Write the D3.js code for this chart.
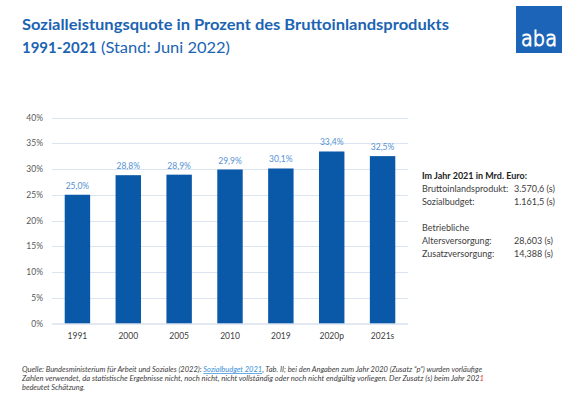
<!DOCTYPE html>
<html><head><meta charset="utf-8">
<script src="https://cdn.jsdelivr.net/npm/d3@7"></script>
<style>
html,body{margin:0;padding:0;background:#fff;}
svg{display:block;font-family:Lato,"Open Sans",sans-serif;}
</style></head>
<body><svg id="c" width="585" height="398"></svg>
<script>
const categories = ["1991","2000","2005","2010","2019","2020p","2021s"];
const values = [25.0, 28.8, 28.9, 29.9, 30.1, 33.4, 32.5];
const yTicks = [0,5,10,15,20,25,30,35,40];
const infoLabels = ["Bruttoinlandsprodukt:","Sozialbudget:","Betriebliche","Altersversorgung:","Zusatzversorgung:"];
const infoValues = ["3.570,6 (s)","1.161,5 (s)","","28,603 (s)","14,388 (s)"];

const svg = d3.select("#c");
const fmt = v => v.toFixed(1).replace(".", ",") + "%";

const x = d3.scaleBand().domain(categories).range([52, 408]).paddingInner(0.5).paddingOuter(0.25);
const y = d3.scaleLinear().domain([0, 40]).range([323.5, 117.5]);

// gridlines
svg.append("g").selectAll("line").data(yTicks.filter(d => d > 0)).join("line")
  .attr("x1", 52).attr("x2", 408)
  .attr("y1", d => Math.round(y(d)) + 0.5).attr("y2", d => Math.round(y(d)) + 0.5)
  .attr("stroke", "#dbe4f1").attr("stroke-width", 1);

// y labels
svg.append("g").selectAll("text").data(yTicks).join("text")
  .attr("x", 43).attr("y", d => y(d) + 3)
  .attr("text-anchor", "end").attr("font-size", 8.5).attr("fill", "#595959")
  .text(d => d + "%");

// bars
svg.append("g").selectAll("rect").data(values).join("rect")
  .attr("x", (d, i) => x(categories[i])).attr("width", x.bandwidth())
  .attr("y", d => y(d)).attr("height", d => y(0) - y(d))
  .attr("fill", "#0a58a8");

// axis line
svg.append("line").attr("x1", 52).attr("x2", 408).attr("y1", 324).attr("y2", 324)
  .attr("stroke", "#c5d3e8").attr("stroke-width", 1);

// value labels
svg.append("g").selectAll("text").data(values).join("text")
  .attr("x", (d, i) => x(categories[i]) + x.bandwidth() / 2)
  .attr("y", d => y(d) - 6)
  .attr("text-anchor", "middle").attr("font-size", 8.5).attr("fill", "#5592d3")
  .text(fmt);

// x labels
svg.append("g").selectAll("text").data(categories).join("text")
  .attr("x", d => x(d) + x.bandwidth() / 2).attr("y", 338.5)
  .attr("text-anchor", "middle").attr("font-size", 8.5).attr("fill", "#404040")
  .text(d => d);

// title
svg.append("text").attr("x", 22).attr("y", 30).attr("font-size", 15.5).attr("font-weight", "bold")
  .attr("fill", "#1b64b2").attr("textLength", 427).attr("lengthAdjust", "spacingAndGlyphs")
  .text("Sozialleistungsquote in Prozent des Bruttoinlandsprodukts");
svg.append("text").attr("x", 22).attr("y", 53).attr("font-size", 15.5).attr("font-weight", "bold")
  .attr("fill", "#1b64b2").attr("textLength", 75).attr("lengthAdjust", "spacingAndGlyphs")
  .text("1991-2021");
svg.append("text").attr("x", 101).attr("y", 53).attr("font-size", 15.5)
  .attr("fill", "#1b64b2").attr("textLength", 129).attr("lengthAdjust", "spacingAndGlyphs")
  .text("(Stand: Juni 2022)");

// logo
svg.append("rect").attr("x", 516).attr("y", 6).attr("width", 46).attr("height", 47).attr("fill", "#1c64b8");
svg.append("text").attr("x", 539).attr("y", 46).attr("text-anchor", "middle")
  .attr("font-size", 22).attr("font-family", "'DejaVu Sans',sans-serif").attr("font-weight", 300)
  .attr("fill", "none").attr("stroke", "#fff").attr("stroke-width", 1.1)
  .attr("textLength", 36).attr("lengthAdjust", "spacingAndGlyphs")
  .text("aba");

// info panel
svg.append("text").attr("x", 422).attr("y", 179).attr("font-size", 8.6).attr("font-weight", "bold")
  .attr("fill", "#222").attr("textLength", 105).attr("lengthAdjust", "spacingAndGlyphs")
  .text("Im Jahr 2021 in Mrd. Euro:");
const infoY = [192, 205, 231, 244, 257];
const ig = svg.append("g").attr("font-size", 9).attr("fill", "#404040");
ig.selectAll("text.l").data(infoLabels).join("text").attr("class", "l")
  .attr("x", 422).attr("y", (d, i) => infoY[i]).text(d => d);
ig.selectAll("text.v").data(infoValues).join("text").attr("class", "v")
  .attr("x", 514).attr("y", (d, i) => infoY[i]).text(d => d);

// footer
const f = svg.append("g").attr("font-size", 7.4).attr("font-style", "italic").attr("fill", "#404040");
const t1 = f.append("text").attr("x", 22).attr("y", 372).attr("textLength", 460).attr("lengthAdjust", "spacingAndGlyphs");
t1.append("tspan").text("Quelle: Bundesministerium für Arbeit und Soziales (2022): ");
t1.append("tspan").attr("fill", "#3a8fd8").attr("text-decoration", "underline").text("Sozialbudget 2021");
t1.append("tspan").text(", Tab. II; bei den Angaben zum Jahr 2020 (Zusatz \u201Cp\u201D) wurden vorläufige");
const t2 = f.append("text").attr("x", 22).attr("y", 381).attr("textLength", 462).attr("lengthAdjust", "spacingAndGlyphs");
t2.append("tspan").text("Zahlen verwendet, da statistische Ergebnisse nicht, noch nicht, nicht vollständig oder noch nicht endgültig vorliegen. Der Zusatz (s) beim Jahr 202");
t2.append("tspan").attr("fill", "#e03030").text("1");
f.append("text").attr("x", 22).attr("y", 390).attr("textLength", 63).attr("lengthAdjust", "spacingAndGlyphs")
  .text("bedeutet Schätzung.");
</script></body></html>
